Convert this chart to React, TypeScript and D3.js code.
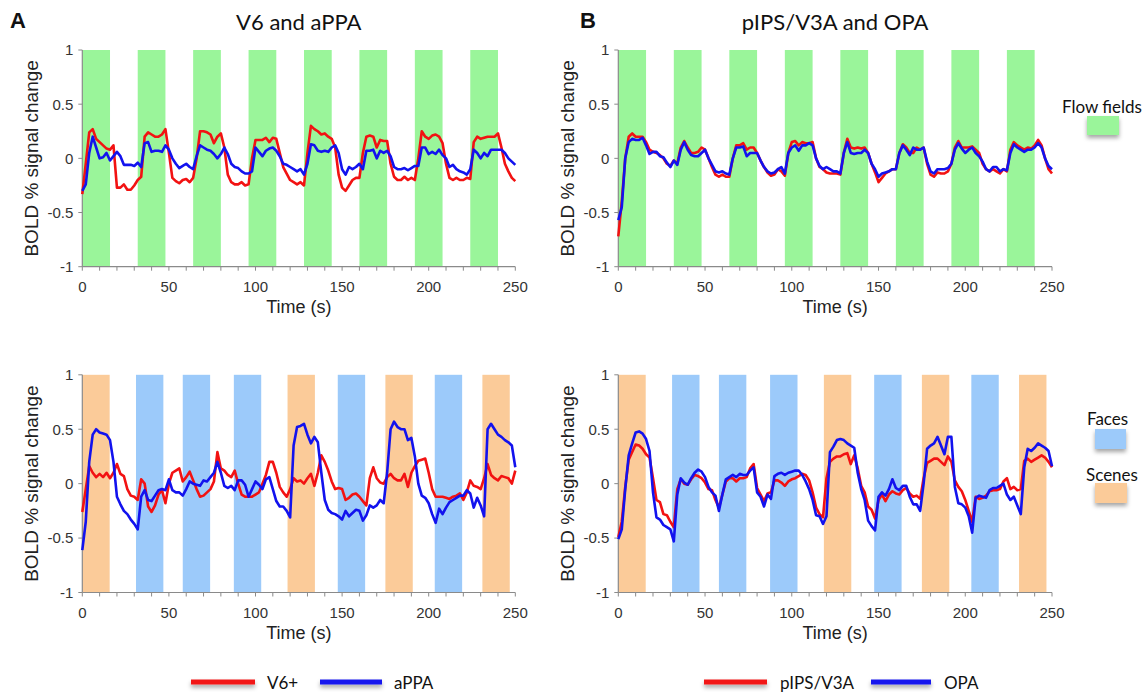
import React from "react";
import * as d3 from "d3";

// ---------- data ----------
// sample times (s): one sample every 2 s (TR = 2 s), 0..250
const TIME: number[] = d3.range(0, 251, 2);

const X_TICK_LABELS = [0, 50, 100, 150, 200, 250];
const X_MINOR_TICKS = [0, 10, 20, 30, 40, 50, 60, 70, 80, 90, 100, 110, 120, 130, 140, 150, 160, 170, 180, 190, 200, 210, 220, 230, 240, 250];
const Y_TICKS = [-1, -0.5, 0, 0.5, 1];

// block onsets (s)
const FLOW_BLOCKS = [0, 32, 64, 96, 128, 160, 192, 224];
const FLOW_DUR = 16;
const CAT_BLOCK_STARTS = [0, 31, 58, 87.5, 118.5, 147.5, 175, 203.5, 231];
const CAT_BLOCK_TYPES = ["Scenes", "Faces", "Faces", "Faces", "Scenes", "Faces", "Scenes", "Faces", "Scenes"];
const CAT_DUR = 15.8;

// Flow fields run – V6+ (red) / aPPA (blue)
const V6_FLOW = [
  -0.33, -0.05, 0.24, 0.27, 0.18, 0.15, 0.12, 0.09, 0.08, 0.12,
  -0.27, -0.27, -0.24, -0.29, -0.29, -0.25, -0.2, -0.17, 0.2, 0.24,
  0.22, 0.2, 0.2, 0.22, 0.27, 0.05, -0.18, -0.21, -0.23, -0.2,
  -0.19, -0.22, -0.18, 0.0, 0.25, 0.25, 0.24, 0.22, 0.14, 0.2,
  0.23, 0.1, -0.15, -0.22, -0.24, -0.24, -0.22, -0.25, -0.24, 0.0,
  0.17, 0.17, 0.17, 0.19, 0.15, 0.19, 0.18, 0.05, -0.08, -0.14,
  -0.2, -0.22, -0.24, -0.22, -0.25, 0.05, 0.3, 0.27, 0.25, 0.22,
  0.23, 0.2, 0.18, 0.1, -0.15, -0.27, -0.3, -0.25, -0.2, -0.18,
  -0.18, 0.05, 0.2, 0.21, 0.2, 0.1, 0.17, 0.16, 0.16, -0.05,
  -0.17, -0.2, -0.2, -0.17, -0.2, -0.18, -0.2, 0.0, 0.25, 0.2,
  0.18, 0.21, 0.22, 0.2, 0.14, -0.05, -0.18, -0.2, -0.18, -0.2,
  -0.2, -0.18, -0.19, 0.15, 0.2, 0.18, 0.19, 0.2, 0.2, 0.2,
  0.23, 0.1, -0.05, -0.12, -0.18, -0.21,
];
const APPA_FLOW = [
  -0.3, -0.24, 0.05, 0.2, 0.1, 0.0, 0.01, 0.05, -0.02, 0.02,
  0.06, 0.02, -0.06, -0.06, -0.06, -0.07, -0.04, -0.08, 0.14, 0.15,
  0.06, 0.07, 0.07, 0.06, 0.12, 0.08, 0.0, -0.05, -0.09, -0.07,
  -0.05, -0.08, -0.1, 0.02, 0.12, 0.1, 0.08, 0.07, 0.04, 0.0,
  0.04, 0.1, 0.04, -0.05, -0.08, -0.09, -0.12, -0.14, -0.14, -0.12,
  0.1, 0.06, 0.02, 0.07, 0.09, 0.1, 0.07, 0.02, -0.05, -0.06,
  -0.08, -0.1, -0.12, -0.1, -0.15, -0.05, 0.13, 0.12, 0.07, 0.06,
  0.07, 0.06, 0.1, 0.12, 0.05, -0.1, -0.15, -0.08, -0.1, -0.08,
  -0.05, -0.1, 0.07, 0.07, 0.08, 0.0, 0.07, 0.05, 0.07, 0.02,
  -0.08, -0.1, -0.1, -0.09, -0.11, -0.09, -0.07, -0.07, 0.1, 0.1,
  0.04, 0.06, 0.04, 0.08, 0.03, 0.0, -0.08, -0.06, -0.1, -0.12,
  -0.13, -0.15, -0.1, 0.08, 0.05, 0.0, 0.05, 0.02, 0.08, 0.08,
  0.08, 0.08, 0.05, 0.0, -0.03, -0.06,
];

// Flow fields run – pIPS/V3A (red) / OPA (blue)
const PIPS_FLOW = [
  -0.72, -0.4, 0.0, 0.2, 0.23, 0.2, 0.2, 0.2, 0.15, 0.08,
  0.06, 0.05, 0.03, 0.0, -0.05, -0.07, -0.02, -0.05, 0.1, 0.16,
  0.1, 0.05, 0.05, 0.06, 0.1, 0.08, 0.0, -0.08, -0.15, -0.17,
  -0.15, -0.17, -0.17, 0.0, 0.12, 0.12, 0.14, 0.08, 0.1, 0.1,
  0.05, -0.02, -0.08, -0.13, -0.16, -0.15, -0.1, -0.12, -0.16, 0.05,
  0.15, 0.16, 0.12, 0.15, 0.14, 0.14, 0.15, 0.0, -0.08, -0.1,
  -0.13, -0.14, -0.14, -0.14, -0.15, 0.05, 0.18, 0.1, 0.09, 0.1,
  0.09, 0.1, 0.05, -0.05, -0.13, -0.22, -0.18, -0.14, -0.12, -0.1,
  -0.1, 0.05, 0.13, 0.1, 0.05, 0.05, 0.1, 0.08, 0.1, -0.05,
  -0.15, -0.17, -0.13, -0.14, -0.14, -0.12, -0.05, 0.1, 0.16, 0.1,
  0.1, 0.1, 0.11, 0.08, 0.05, -0.05, -0.1, -0.12, -0.1, -0.12,
  -0.14, -0.1, -0.12, 0.08, 0.15, 0.12, 0.1, 0.08, 0.1, 0.09,
  0.12, 0.17, 0.12, 0.0, -0.1, -0.14,
];
const OPA_FLOW = [
  -0.57, -0.45, 0.0, 0.15, 0.18, 0.17, 0.17, 0.19, 0.12, 0.04,
  0.06, 0.06, 0.02, 0.01, -0.04, -0.08, -0.02, -0.06, 0.08, 0.15,
  0.08, 0.03, 0.02, 0.02, 0.05, 0.08, 0.0, -0.06, -0.12, -0.13,
  -0.12, -0.14, -0.15, 0.0, 0.1, 0.1, 0.11, 0.02, 0.05, 0.05,
  0.05, -0.02, -0.08, -0.12, -0.14, -0.13, -0.1, -0.08, -0.14, 0.05,
  0.1, 0.12, 0.07, 0.12, 0.12, 0.14, 0.12, 0.0, -0.07, -0.1,
  -0.08, -0.1, -0.12, -0.12, -0.14, 0.05, 0.15, 0.05, 0.04, 0.05,
  0.05, 0.08, 0.05, -0.05, -0.1, -0.17, -0.14, -0.13, -0.12, -0.1,
  -0.1, 0.05, 0.12, 0.08, 0.03, 0.1, 0.08, 0.08, 0.1, -0.03,
  -0.12, -0.14, -0.1, -0.1, -0.1, -0.09, -0.05, 0.08, 0.14, 0.09,
  0.05, 0.08, 0.1, 0.05, 0.02, -0.03, -0.1, -0.12, -0.08, -0.08,
  -0.12, -0.1, -0.11, 0.05, 0.13, 0.1, 0.08, 0.06, 0.08, 0.08,
  0.1, 0.14, 0.1, 0.0, -0.07, -0.1,
];

// Faces / Scenes run – V6+ (red) / aPPA (blue)
const V6_CAT = [
  -0.26, -0.05, 0.16, 0.1, 0.06, 0.09, 0.06, 0.1, 0.05, 0.1,
  0.18, 0.09, 0.07, -0.05, -0.11, -0.12, -0.15, 0.04, 0.0, -0.21,
  -0.26, -0.2, -0.1, -0.06, -0.18, 0.0, 0.1, 0.12, 0.14, 0.02,
  0.06, 0.11, 0.03, -0.05, -0.12, -0.11, -0.08, -0.05, 0.02, 0.29,
  0.14, 0.12, 0.08, 0.06, 0.12, 0.0, -0.1, -0.12, -0.12, -0.12,
  -0.1, -0.08, 0.0, 0.08, 0.2, 0.2, 0.1, -0.03, -0.08, -0.12,
  -0.05, 0.05, 0.02, 0.03, 0.0, 0.05, 0.09, -0.02, 0.1, 0.26,
  0.2, 0.12, 0.02, -0.05, -0.04, -0.05, -0.15, -0.13, -0.1, -0.09,
  -0.12, -0.16, -0.2, 0.05, 0.15, 0.05, 0.01, 0.0, 0.06, 0.09,
  0.05, 0.03, 0.03, 0.09, -0.03, 0.1, 0.16, 0.21, 0.22, 0.23,
  0.1, -0.05, -0.12, -0.12, -0.12, -0.13, -0.14, -0.12, -0.11, -0.09,
  -0.15, -0.08, 0.03, -0.02, -0.03, -0.05, 0.05, 0.18, 0.08, 0.05,
  0.03, 0.07, 0.06, 0.05, 0.0, 0.12,
];
const APPA_CAT = [
  -0.61, -0.35, 0.2, 0.45, 0.5, 0.47, 0.46, 0.45, 0.4, 0.2,
  -0.12, -0.19, -0.25, -0.28, -0.33, -0.37, -0.42, -0.12, -0.06, -0.15,
  -0.16, -0.11, -0.06, -0.05, -0.06, 0.04, -0.06, -0.08, -0.08, -0.11,
  -0.05, 0.02, 0.0, -0.01, -0.02, 0.03, 0.02, 0.06, 0.1, 0.2,
  0.1, -0.02, -0.04, -0.02, -0.06, 0.03, 0.03, -0.01, -0.12, -0.05,
  0.02, -0.01, -0.05, 0.04, 0.06, -0.05, -0.16, -0.21, -0.21, -0.25,
  -0.31, 0.35, 0.52, 0.53, 0.55, 0.45, 0.37, 0.43, 0.38, 0.1,
  -0.15, -0.24, -0.27, -0.28, -0.3, -0.33, -0.25, -0.3, -0.27, -0.24,
  -0.25, -0.34, -0.29, -0.2, -0.22, -0.2, -0.15, -0.18, 0.1, 0.5,
  0.57, 0.52, 0.5, 0.5, 0.4, 0.42, 0.25, 0.0, -0.11, -0.13,
  -0.18, -0.28, -0.36, -0.23, -0.28, -0.22, -0.17, -0.15, -0.13, -0.11,
  -0.11, -0.06, -0.09, -0.22, -0.13, -0.2, -0.3, 0.5, 0.55, 0.5,
  0.45, 0.43, 0.4, 0.38, 0.35, 0.15,
];

// Faces / Scenes run – pIPS/V3A (red) / OPA (blue)
const PIPS_CAT = [
  -0.49, -0.35, -0.03, 0.22, 0.29, 0.36, 0.35, 0.32, 0.27, 0.24,
  0.05, -0.15, -0.17, -0.28, -0.29, -0.35, -0.4, -0.05, 0.04, 0.0,
  -0.01, 0.04, 0.08, 0.07, 0.05, 0.01, -0.05, -0.06, -0.15, -0.22,
  -0.1, 0.02, 0.05, 0.05, 0.02, 0.05, 0.05, 0.06, 0.14, 0.18,
  -0.04, -0.1, -0.16, -0.09, -0.08, 0.03, 0.03, 0.01, -0.02, 0.02,
  0.04, 0.05, 0.07, 0.09, 0.08, 0.03, -0.08, -0.22, -0.28, -0.31,
  0.05, 0.2, 0.23, 0.25, 0.25, 0.27, 0.28, 0.18, 0.26, 0.14,
  -0.02, -0.08, -0.21, -0.24, -0.32, -0.15, -0.1, -0.16, -0.1, -0.07,
  -0.09, -0.1, -0.06, -0.04, -0.09, -0.12, -0.11, -0.14, 0.05, 0.19,
  0.21, 0.23, 0.23, 0.2, 0.17, 0.25, 0.2, 0.03, -0.03, -0.07,
  -0.15, -0.25, -0.35, -0.12, -0.14, -0.13, -0.11, -0.07, -0.06, -0.06,
  -0.05, 0.02, 0.05, -0.05, -0.03, -0.06, -0.05, 0.21, 0.23, 0.2,
  0.22, 0.24, 0.26, 0.24, 0.2, 0.15,
];
const OPA_CAT = [
  -0.51, -0.42, -0.05, 0.26, 0.37, 0.47, 0.48, 0.46, 0.41, 0.3,
  -0.08, -0.31, -0.33, -0.38, -0.4, -0.42, -0.53, -0.1, 0.05, 0.01,
  -0.01, 0.05, 0.1, 0.13, 0.11, 0.06, -0.03, -0.08, -0.11, -0.25,
  -0.1, 0.04, 0.06, 0.08, 0.06, 0.09, 0.08, 0.08, 0.12, 0.15,
  -0.08, -0.12, -0.21, -0.1, -0.14, 0.07, 0.09, 0.1, 0.08, 0.1,
  0.11, 0.12, 0.12, 0.08, 0.02, -0.05, -0.15, -0.29, -0.3, -0.37,
  -0.3, 0.29, 0.34, 0.4, 0.41, 0.4, 0.37, 0.35, 0.33, 0.1,
  -0.05, -0.15, -0.34, -0.39, -0.43, -0.12, -0.08, -0.11, -0.05, 0.04,
  -0.04, -0.06, -0.02, -0.02, -0.12, -0.19, -0.19, -0.25, 0.0, 0.32,
  0.35, 0.37, 0.43, 0.35, 0.27, 0.43, 0.43, -0.03, -0.18, -0.19,
  -0.22, -0.3, -0.45, -0.13, -0.11, -0.12, -0.13, -0.06, -0.04, -0.04,
  -0.02, 0.0, -0.1, -0.15, -0.12, -0.2, -0.28, 0.15, 0.32, 0.3,
  0.33, 0.37, 0.35, 0.33, 0.3, 0.16,
];

// ---------- styles ----------
const W = 1146;
const H = 694;
const RED = "#f21212";
const BLUE = "#1212ee";
const GREEN = "#9af59a";
const FACE_COL = "#9ccafa";
const SCENE_COL = "#fbcb99";
const AXIS = "#8a8a8a";
const TICK_FONT = "'Liberation Sans', Arial, Helvetica, sans-serif";
const TITLE_FONT = "Lato, 'Open Sans', sans-serif";

type Block = { start: number; dur: number; color: string };

function Panel(props: {
  left: number;
  right: number;
  top: number;
  bottom: number;
  blocks: Block[];
  red: number[];
  blue: number[];
}) {
  const { left, right, top, bottom, blocks, red, blue } = props;
  const x = d3.scaleLinear().domain([0, 250]).range([left, right]);
  const y = d3.scaleLinear().domain([-1, 1]).range([bottom, top]);
  const line = d3
    .line<number>()
    .x((_, i) => x(TIME[i]))
    .y((d) => y(d));
  const midY = (top + bottom) / 2;
  return (
    <g>
      {blocks.map((b, i) => (
        <rect key={i} x={x(b.start)} y={top} width={x(b.start + b.dur) - x(b.start)} height={bottom - top} fill={b.color} />
      ))}
      {/* axes */}
      <line x1={left} x2={right} y1={bottom} y2={bottom} stroke={AXIS} strokeWidth={1.2} />
      <line x1={left} x2={left} y1={top} y2={bottom} stroke={AXIS} strokeWidth={1.2} />
      {X_MINOR_TICKS.map((t) => (
        <line key={"xt" + t} x1={x(t)} x2={x(t)} y1={bottom} y2={bottom + 4} stroke={AXIS} strokeWidth={1} />
      ))}
      {Y_TICKS.map((t) => (
        <line key={"yt" + t} x1={left - 4} x2={left} y1={y(t)} y2={y(t)} stroke={AXIS} strokeWidth={1} />
      ))}
      {X_TICK_LABELS.map((t) => (
        <text key={"xl" + t} x={x(t)} y={bottom + 25} textAnchor="middle" fontSize={15} fontFamily={TICK_FONT} fill="#333">
          {t}
        </text>
      ))}
      {Y_TICKS.map((t) => (
        <text key={"yl" + t} x={left - 9} y={y(t)} dy="0.36em" textAnchor="end" fontSize={15} fontFamily={TICK_FONT} fill="#333">
          {String(t)}
        </text>
      ))}
      <text x={(left + right) / 2} y={bottom + 46} textAnchor="middle" fontSize={18} fontFamily={TICK_FONT} fill="#222">
        Time (s)
      </text>
      <text
        transform={`translate(${left - 51},${midY}) rotate(-90)`}
        textAnchor="middle"
        dy="0.35em"
        fontSize={19}
        fontFamily={TICK_FONT}
        fill="#222"
      >
        BOLD % signal change
      </text>
      <path d={line(red) || ""} fill="none" stroke={RED} strokeWidth={2.6} strokeLinejoin="round" />
      <path d={line(blue) || ""} fill="none" stroke={BLUE} strokeWidth={2.6} strokeLinejoin="round" />
    </g>
  );
}

function LegendLine(props: { x1: number; x2: number; y: number; color: string }) {
  const { x1, x2, y, color } = props;
  return <rect x={x1} y={y - 2.5} width={x2 - x1} height={5} fill={color} filter="url(#sh)" />;
}

export default function App() {
  const flowBlocks: Block[] = FLOW_BLOCKS.map((s) => ({ start: s, dur: FLOW_DUR, color: GREEN }));
  const catBlocks: Block[] = CAT_BLOCK_STARTS.map((s, i) => ({
    start: s,
    dur: CAT_DUR,
    color: CAT_BLOCK_TYPES[i] === "Faces" ? FACE_COL : SCENE_COL,
  }));
  const A = { left: 82.3, right: 515.3 };
  const B = { left: 618.3, right: 1052 };
  const R1 = { top: 50, bottom: 266.7 };
  const R2 = { top: 374.8, bottom: 592.5 };

  return (
    <svg width={W} height={H} style={{ position: "absolute", left: 0, top: 0, background: "#fff" }}>
      <defs>
        <filter id="sh" x="-30%" y="-60%" width="160%" height="300%">
          <feDropShadow dx="0" dy="3" stdDeviation="2" floodColor="#000" floodOpacity="0.35" />
        </filter>
      </defs>
      <rect x={0} y={0} width={W} height={H} fill="#fff" />

      {/* panel letters and titles */}
      <text x={10} y={28} fontSize={22} fontWeight="bold" fontFamily={TICK_FONT} fill="#111">A</text>
      <text x={580} y={28} fontSize={22} fontWeight="bold" fontFamily={TICK_FONT} fill="#111">B</text>
      <text x={(A.left + A.right) / 2} y={30} textAnchor="middle" fontSize={22} fontFamily={TITLE_FONT} fill="#111">
        V6 and aPPA
      </text>
      <text x={(B.left + B.right) / 2} y={30} textAnchor="middle" fontSize={22} fontFamily={TITLE_FONT} fill="#111">
        pIPS/V3A and OPA
      </text>

      <Panel {...A} {...R1} blocks={flowBlocks} red={V6_FLOW} blue={APPA_FLOW} />
      <Panel {...B} {...R1} blocks={flowBlocks} red={PIPS_FLOW} blue={OPA_FLOW} />
      <Panel {...A} {...R2} blocks={catBlocks} red={V6_CAT} blue={APPA_CAT} />
      <Panel {...B} {...R2} blocks={catBlocks} red={PIPS_CAT} blue={OPA_CAT} />

      {/* block legends */}
      <text x={1062} y={113} fontSize={17} fontFamily={TITLE_FONT} fill="#111">Flow fields</text>
      <rect x={1087} y={116} width={32} height={19} fill={GREEN} filter="url(#sh)" />
      <text x={1087} y={425} fontSize={17} fontFamily={TITLE_FONT} fill="#111">Faces</text>
      <rect x={1095} y={429} width={31} height={20} fill={FACE_COL} filter="url(#sh)" />
      <text x={1086} y={481} fontSize={17} fontFamily={TITLE_FONT} fill="#111">Scenes</text>
      <rect x={1095} y={483} width={32} height={20} fill={SCENE_COL} filter="url(#sh)" />

      {/* line legends */}
      <LegendLine x1={191} x2={255} y={682} color={RED} />
      <text x={267} y={689} fontSize={17} fontFamily={TITLE_FONT} fill="#111">V6+</text>
      <LegendLine x1={320} x2={382} y={682} color={BLUE} />
      <text x={394} y={689} fontSize={17} fontFamily={TITLE_FONT} fill="#111">aPPA</text>

      <LegendLine x1={704} x2={767} y={682} color={RED} />
      <text x={780} y={689} fontSize={17} fontFamily={TITLE_FONT} fill="#111">pIPS/V3A</text>
      <LegendLine x1={871} x2={931} y={682} color={BLUE} />
      <text x={944} y={689} fontSize={17} fontFamily={TITLE_FONT} fill="#111">OPA</text>
    </svg>
  );
}
